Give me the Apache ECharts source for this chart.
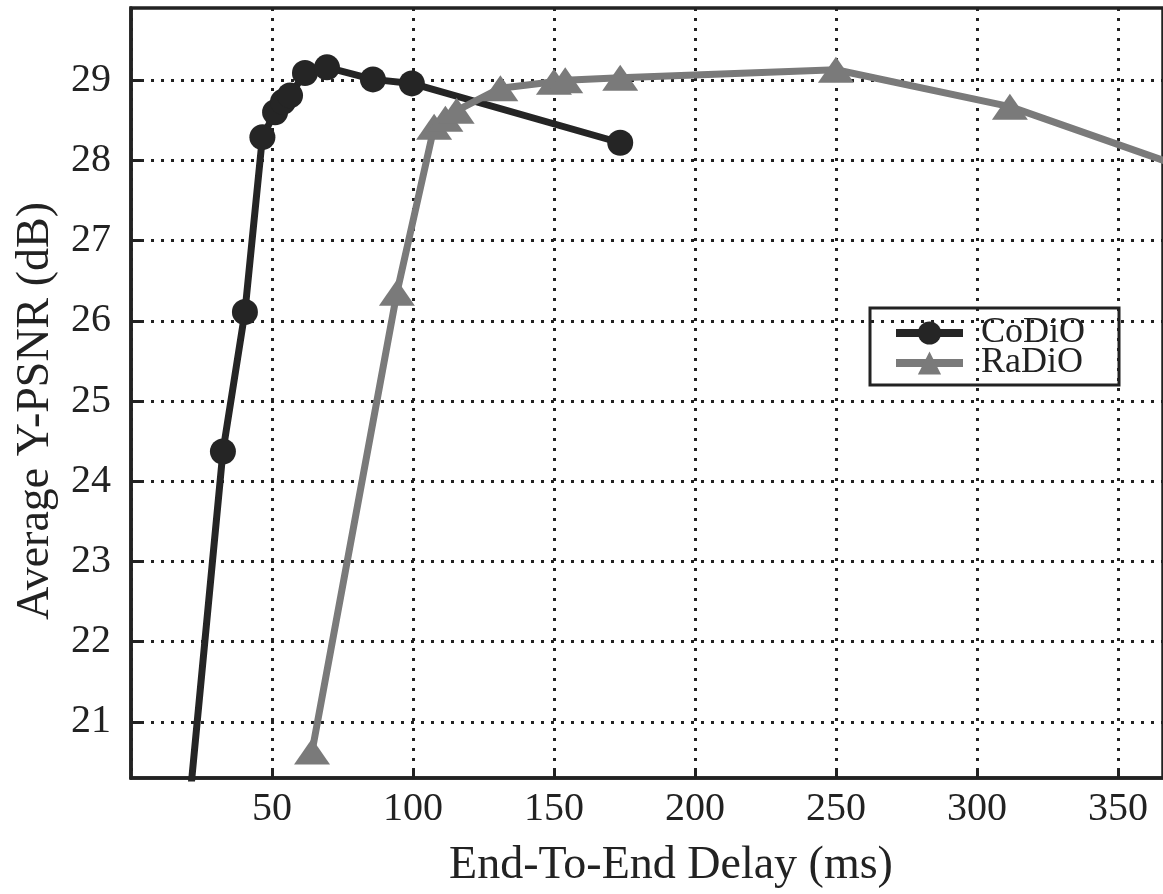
<!DOCTYPE html>
<html>
<head>
<meta charset="utf-8">
<script src="https://cdn.jsdelivr.net/npm/echarts@6/dist/echarts.min.js"></script>
<style>
  html, body { margin: 0; padding: 0; background: #fff; }
  #chart { width: 1163px; height: 894px; }
</style>
</head>
<body>
<div id="chart"></div>
<script>
// CoDiO (black circles)
const codioDelay = [20.5, 32.6, 40.4, 46.6, 51.1, 53.9, 56.4, 61.7, 69.5, 85.8, 99.6, 173.5]
const codioPsnr = [19.9, 24.37, 26.11, 28.29, 28.6, 28.73, 28.81, 29.09, 29.16, 29.01, 28.96, 28.22]

// RaDiO (gray triangles)
const radioDelay = [64.2, 94.3, 107.5, 111.5, 115.5, 131, 150, 154, 173.5, 250, 311.7, 380]
const radioPsnr = [20.63, 26.35, 28.42, 28.52, 28.62, 28.9, 28.98, 29.0, 29.03, 29.13, 28.67, 27.83]

const yTicks = [21, 22, 23, 24, 25, 26, 27, 28, 29]

const font = '"Liberation Serif", "DejaVu Serif", serif'
const ink = '#222'

const zip = (xs, ys) => xs.map((x, i) => [x, ys[i]])

// 点状网格线
const dotted = { color: ink, width: 3, type: [3, 7] }

const chart = echarts.init(document.getElementById('chart'))
chart.setOption({
    animation: false,
    backgroundColor: '#fff',
    grid: {
        left: 131, right: 0, top: 8, bottom: 112,
        show: true, borderColor: ink, borderWidth: 3.5, backgroundColor: 'transparent'
    },
    legend: {
        orient: 'vertical',
        left: 870, top: 308,
        borderColor: ink, borderWidth: 3,
        padding: [7, 34, 4, 22],
        itemGap: -6,
        itemWidth: 67, itemHeight: 29,
        lineStyle: { width: 8 },
        textStyle: { fontFamily: font, fontSize: 36, color: ink, lineHeight: 30, padding: [0, 0, 0, 13] },
        data: ['CoDiO', 'RaDiO']
    },
    xAxis: {
        type: 'value',
        min: 0, max: 366, interval: 50,
        name: 'End-To-End Delay (ms)',
        nameLocation: 'middle',
        nameGap: 65,
        nameTextStyle: { fontFamily: font, fontSize: 46, color: ink, padding: [0, 0, 0, 48] },
        axisLine: { show: true, lineStyle: { color: ink, width: 3.5 } },
        axisTick: { show: true, inside: true, length: 10, lineStyle: { color: ink, width: 3 } },
        axisLabel: { fontFamily: font, fontSize: 40, color: ink, margin: 11, showMinLabel: false, showMaxLabel: false },
        splitLine: { show: true, lineStyle: dotted }
    },
    yAxis: {
        type: 'value',
        min: 20.3, max: 29.9,
        name: 'Average Y-PSNR (dB)',
        nameLocation: 'middle',
        nameGap: 72,
        nameRotate: 90,
        nameTextStyle: { fontFamily: font, fontSize: 46, color: ink, padding: [0, 36, 0, 0] },
        axisLine: { show: true, lineStyle: { color: ink, width: 3.5 } },
        axisTick: { show: true, inside: true, length: 10, lineStyle: { color: ink, width: 3 }, customValues: yTicks },
        axisLabel: { fontFamily: font, fontSize: 40, color: ink, margin: 20, customValues: yTicks },
        splitLine: { show: true, lineStyle: dotted }
    },
    series: [
        {
            name: 'CoDiO',
            type: 'line',
            data: zip(codioDelay, codioPsnr),
            symbol: 'circle',
            symbolSize: 26,
            showAllSymbol: true,
            clip: true,
            itemStyle: { color: '#252525' },
            lineStyle: { color: '#252525', width: 7 }
        },
        {
            name: 'RaDiO',
            type: 'line',
            data: zip(radioDelay, radioPsnr),
            symbol: 'triangle',
            symbolSize: [36, 26],
            showAllSymbol: true,
            clip: true,
            itemStyle: { color: '#7a7a7a' },
            lineStyle: { color: '#7a7a7a', width: 7 }
        }
    ]
})
</script>
</body>
</html>
